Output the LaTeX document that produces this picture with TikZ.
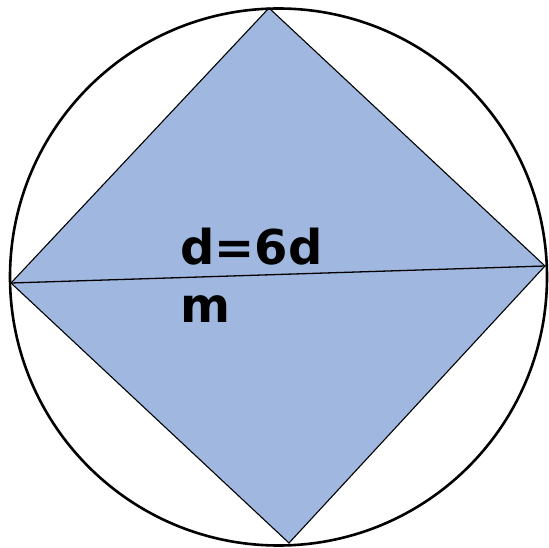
\documentclass[tikz,border=0pt]{standalone}
\usepackage{fontspec}
\setmainfont{DejaVu Sans}
\usetikzlibrary{positioning}
\definecolor{SquareBlue}{RGB}{160,184,224}
\tikzset{
  rim/.style={draw=black, line width=2.6pt},
  square/.style={draw=black, line width=1.1pt, fill=SquareBlue, line join=miter},
  diam/.style={draw=black, line width=1.3pt},
  lbl/.style={font=\fontsize{48}{57}\selectfont\bfseries, inner sep=0pt, anchor=base west},
}
\begin{document}
\begin{tikzpicture}[x=1pt, y=-1pt]
  \useasboundingbox (0,0) rectangle (549,548);
  % corners of the square
  \coordinate (top) at (269,8);
  \coordinate (rt) at (545,266);
  \coordinate (bot) at (289,543);
  \coordinate (lft) at (11,283);
  \coordinate (ctr) at (278.5,277);
  \fill[square] (top) -- (rt) -- (bot) -- (lft) -- cycle;
  \draw[diam] (lft) -- (rt);
  \draw[rim] (ctr) circle[radius=268.5];
  \node[lbl] (dval) at (180,265) {d=6d};
  \node[lbl] (dunit) at (180,322) {m};
\end{tikzpicture}
\end{document}
